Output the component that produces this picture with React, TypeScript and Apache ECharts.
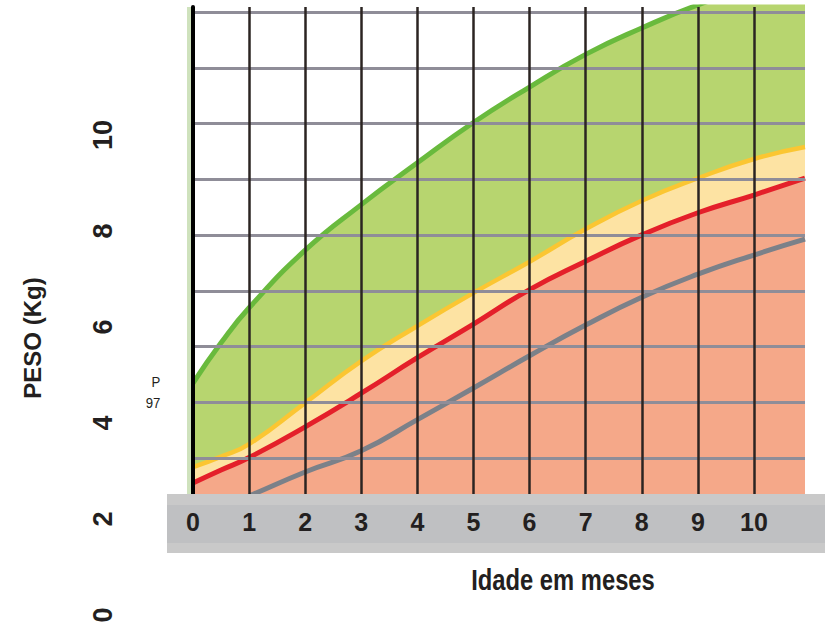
import React, { useEffect, useRef } from "react";
import * as echarts from "echarts";

// Age in months (x) and weight in kg (y)
const months = [0, 0.5, 1, 2, 3, 4, 5, 6, 7, 8, 9, 10, 10.91];
const greenUpper = [4.83, 5.67, 6.4, 7.6, 8.55, 9.42, 10.26, 11.0, 11.68, 12.23, 12.71, 13.08, 13.38];
const yellowLine = [3.08, 3.3, 3.56, 4.42, 5.29, 6.02, 6.71, 7.36, 8.04, 8.63, 9.1, 9.5, 9.75];
const redLine = [2.75, 3.02, 3.28, 3.92, 4.62, 5.36, 6.06, 6.78, 7.37, 7.92, 8.38, 8.75, 9.1];
const grayLine = [2.02, 2.25, 2.48, 2.98, 3.42, 4.07, 4.73, 5.4, 6.04, 6.62, 7.1, 7.5, 7.83];

const xTickLabels = ["0", "1", "2", "3", "4", "5", "6", "7", "8", "9", "10"];
const yTickLabels = ["0", "2", "4", "6", "8", "10"];

const FONT = "Liberation Sans, Arial, sans-serif";
const TEXT = "#231f20";

function pairs(values: number[]) {
  return months.map((m, i) => [m, values[i]]);
}

export default function App() {
  const ref = useRef<HTMLDivElement>(null);

  useEffect(() => {
    if (!ref.current) return;
    const chart = echarts.init(ref.current, null, { renderer: "svg" });

    const vColors = xTickLabels.map(() => "#2b2422").concat(["transparent"]);
    const hColors = Array.from({ length: 10 }, () => "#8f8d98").concat(["transparent"]);

    const lineBase = {
      type: "line",
      xAxisIndex: 0,
      yAxisIndex: 0,
      smooth: 0.5,
      symbol: "none",
      z: 2,
    };

    chart.setOption({
      animation: false,
      backgroundColor: "#ffffff",
      grid: [
        { left: 193, right: 20, top: 7, bottom: 114 },
        { left: 124, width: 10, top: 135, bottom: 13 },
      ],
      xAxis: [
        {
          gridIndex: 0,
          type: "value",
          position: "bottom",
          min: 0,
          max: 10.91,
          interval: 1,
          z: 3,
          axisLine: { show: false },
          axisTick: { show: false },
          axisLabel: { show: false },
          splitLine: { show: true, lineStyle: { color: vColors, width: 2.5 } },
        },
        {
          gridIndex: 0,
          type: "value",
          position: "bottom",
          min: 0,
          max: 10.91,
          interval: 1,
          z: 11,
          axisLine: { show: false },
          axisTick: { show: false },
          splitLine: { show: false },
          axisLabel: {
            show: true,
            margin: -5,
            fontSize: 25,
            fontWeight: "bold",
            fontFamily: FONT,
            color: TEXT,
            formatter: (v: number) =>
              Number.isInteger(v) && xTickLabels[v] !== undefined ? xTickLabels[v] : "",
          },
        },
        { gridIndex: 1, type: "value", show: false, min: 0, max: 1 },
      ],
      yAxis: [
        {
          gridIndex: 0,
          type: "value",
          position: "left",
          min: 2.104,
          max: 12.667,
          z: 4,
          axisLine: { show: true, onZero: false, lineStyle: { color: "#000000", width: 4 } },
          axisTick: { show: false },
          axisLabel: { show: false },
          splitLine: { show: false },
        },
        {
          gridIndex: 0,
          type: "value",
          position: "right",
          min: 0,
          max: 9.094,
          interval: 1,
          z: 3,
          axisLine: { show: false },
          axisTick: { show: false },
          axisLabel: { show: false },
          splitLine: { show: true, lineStyle: { color: hColors, width: 3 } },
        },
        {
          gridIndex: 1,
          type: "value",
          position: "left",
          min: 0,
          max: 10,
          interval: 2,
          axisLine: { show: false },
          axisTick: { show: false },
          splitLine: { show: false },
          axisLabel: {
            show: true,
            rotate: 90,
            margin: 8,
            fontSize: 27,
            fontWeight: "bold",
            fontFamily: FONT,
            color: TEXT,
            formatter: (v: number) => yTickLabels[Math.round(v / 2)] ?? "",
          },
        },
      ],
      series: [
        {
          ...lineBase,
          data: pairs(greenUpper),
          lineStyle: { color: "#69ba3d", width: 5 },
          areaStyle: { color: "#b7d56f", opacity: 1, origin: "start" },
        },
        {
          ...lineBase,
          data: pairs(yellowLine),
          lineStyle: { color: "#fbc632", width: 4.5 },
          areaStyle: { color: "#fde3a3", opacity: 1, origin: "start" },
        },
        {
          ...lineBase,
          data: pairs(redLine),
          lineStyle: { color: "#e4202a", width: 5 },
          areaStyle: { color: "#f5a889", opacity: 1, origin: "start" },
        },
        {
          ...lineBase,
          data: pairs(grayLine),
          lineStyle: { color: "#7b8189", width: 5 },
        },
      ],
      graphic: {
        elements: [
          { type: "rect", shape: { x: 187, y: 7, width: 6, height: 487 }, style: { fill: "#cfe2bd" }, z: 1 },
          { type: "rect", shape: { x: 167, y: 494, width: 658, height: 59 }, style: { fill: "#c9c9c9" }, z: 10 },
          { type: "rect", shape: { x: 167, y: 505, width: 658, height: 38 }, style: { fill: "#bfc0c2" }, z: 10 },
          {
            type: "text",
            x: 563,
            y: 580,
            scaleX: 0.82,
            z: 12,
            style: {
              text: "Idade em meses",
              fontSize: 29,
              fontWeight: "bold",
              fontFamily: FONT,
              fill: TEXT,
              align: "center",
              verticalAlign: "middle",
              textAlign: "center",
              textVerticalAlign: "middle",
            },
          },
          {
            type: "text",
            x: 32,
            y: 338,
            rotation: Math.PI / 2,
            z: 12,
            style: {
              text: "PESO (Kg)",
              fontSize: 24,
              fontWeight: "bold",
              fontFamily: FONT,
              fill: TEXT,
              align: "center",
              verticalAlign: "middle",
              textAlign: "center",
              textVerticalAlign: "middle",
            },
          },
          {
            type: "text",
            x: 156,
            y: 382,
            scaleX: 0.88,
            z: 12,
            style: {
              text: "P",
              fontSize: 15,
              fontFamily: FONT,
              fill: TEXT,
              align: "center",
              verticalAlign: "middle",
              textAlign: "center",
              textVerticalAlign: "middle",
            },
          },
          {
            type: "text",
            x: 153,
            y: 403,
            scaleX: 0.88,
            z: 12,
            style: {
              text: "97",
              fontSize: 15,
              fontFamily: FONT,
              fill: TEXT,
              align: "center",
              verticalAlign: "middle",
              textAlign: "center",
              textVerticalAlign: "middle",
            },
          },
        ],
      },
    });

    return () => {
      chart.dispose();
    };
  }, []);

  return (
    <div
      ref={ref}
      style={{ position: "fixed", left: 0, top: 0, width: 825, height: 628 }}
    />
  );
}
